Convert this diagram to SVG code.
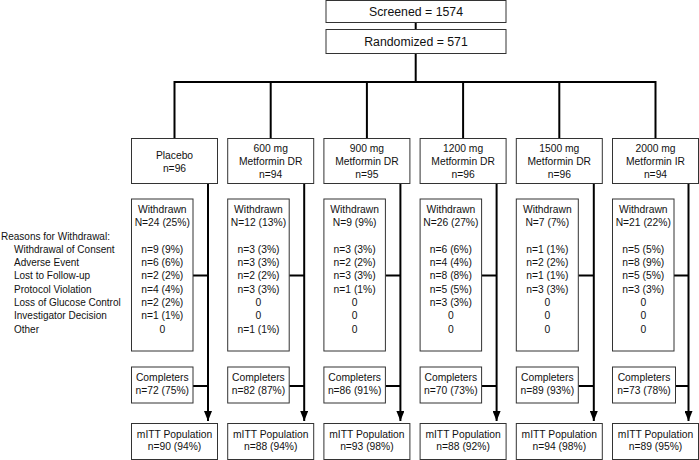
<svg xmlns="http://www.w3.org/2000/svg" width="699" height="460" viewBox="0 0 699 460">
<defs>
<style>
text{font-family:"Liberation Sans",Arial,sans-serif;font-size:10.3px;fill:#111;text-anchor:middle}
.big{font-size:12.3px}
.lab{text-anchor:start;font-size:10px}
.box{fill:#fff;stroke:#333;stroke-width:1}
.ln{fill:none;stroke:#000;stroke-width:2}
</style>
<marker id="ah" viewBox="0 0 10 8" refX="10" refY="4" markerWidth="10" markerHeight="8" markerUnits="userSpaceOnUse" orient="auto">
<path d="M0,0 L10,4 L0,8 Z" fill="#000"/>
</marker>
</defs>
<rect width="699" height="460" fill="#fff"/>

<g id="connectors">
<line class="ln" x1="415.7" y1="22.5" x2="415.7" y2="29.5"/>
<line class="ln" x1="415.7" y1="53.5" x2="415.7" y2="82"/>
<polyline class="ln" points="174.5,138.5 174.5,82 655.5,82 655.5,138.5"/>
<line class="ln" x1="270.7" y1="82" x2="270.7" y2="138.5"/>
<line class="ln" x1="366.9" y1="82" x2="366.9" y2="138.5"/>
<line class="ln" x1="463.1" y1="82" x2="463.1" y2="138.5"/>
<line class="ln" x1="559.3" y1="82" x2="559.3" y2="138.5"/>
<g transform="translate(131.5,0)">
<line class="ln" x1="76.5" y1="183.5" x2="76.5" y2="421" marker-end="url(#ah)"/>
<line class="ln" x1="61.5" y1="275.5" x2="76.5" y2="275.5"/>
<line class="ln" x1="61.5" y1="386" x2="76.5" y2="386"/>
</g>
<g transform="translate(227.7,0)">
<line class="ln" x1="76.5" y1="183.5" x2="76.5" y2="421" marker-end="url(#ah)"/>
<line class="ln" x1="61.5" y1="275.5" x2="76.5" y2="275.5"/>
<line class="ln" x1="61.5" y1="386" x2="76.5" y2="386"/>
</g>
<g transform="translate(323.9,0)">
<line class="ln" x1="76.5" y1="183.5" x2="76.5" y2="421" marker-end="url(#ah)"/>
<line class="ln" x1="61.5" y1="275.5" x2="76.5" y2="275.5"/>
<line class="ln" x1="61.5" y1="386" x2="76.5" y2="386"/>
</g>
<g transform="translate(420.1,0)">
<line class="ln" x1="76.5" y1="183.5" x2="76.5" y2="421" marker-end="url(#ah)"/>
<line class="ln" x1="61.5" y1="275.5" x2="76.5" y2="275.5"/>
<line class="ln" x1="61.5" y1="386" x2="76.5" y2="386"/>
</g>
<g transform="translate(516.3,0)">
<line class="ln" x1="77.5" y1="183.5" x2="77.5" y2="421" marker-end="url(#ah)"/>
<line class="ln" x1="62" y1="275.5" x2="77.5" y2="275.5"/>
<line class="ln" x1="62" y1="386" x2="77.5" y2="386"/>
</g>
<g transform="translate(612.5,0)">
<line class="ln" x1="76" y1="183.5" x2="76" y2="421" marker-end="url(#ah)"/>
<line class="ln" x1="61.5" y1="275.5" x2="76" y2="275.5"/>
<line class="ln" x1="63" y1="386" x2="76" y2="386"/>
</g>
</g>

<g id="screened">
<rect class="box" x="326" y="0.5" width="180" height="22"/>
<text class="big" x="416" y="16.3">Screened = 1574</text>
</g>
<g id="randomized">
<rect class="box" x="326" y="29.5" width="180" height="24"/>
<text class="big" x="416" y="45.8">Randomized = 571</text>
</g>

<g id="reasons">
<text class="lab" x="1" y="240.3">Reasons for Withdrawal:</text>
<text class="lab" x="14" y="252.6">Withdrawal of Consent</text>
<text class="lab" x="14" y="266">Adverse Event</text>
<text class="lab" x="14" y="279.3">Lost to Follow-up</text>
<text class="lab" x="14" y="292.6">Protocol Violation</text>
<text class="lab" x="14" y="306">Loss of Glucose Control</text>
<text class="lab" x="14" y="319.3">Investigator Decision</text>
<text class="lab" x="14" y="332.6">Other</text>
</g>

<g id="placebo" transform="translate(131.5,0)">
<rect class="box" x="0" y="138.5" width="86" height="45"/>
<text x="43" y="158.6">Placebo</text>
<text x="43" y="172">n=96</text>
</g>
<g id="placebo-withdrawn" transform="translate(131.5,0)">
<rect class="box" x="0" y="199" width="61.5" height="152"/>
<text x="30.75" y="213">Withdrawn</text>
<text x="30.75" y="226">N=24 (25%)</text>
<text x="30.75" y="252.6">n=9 (9%)</text>
<text x="30.75" y="266">n=6 (6%)</text>
<text x="30.75" y="279.3">n=2 (2%)</text>
<text x="30.75" y="292.6">n=4 (4%)</text>
<text x="30.75" y="306">n=2 (2%)</text>
<text x="30.75" y="319.3">n=1 (1%)</text>
<text x="30.75" y="332.6">0</text>
</g>
<g id="placebo-completers" transform="translate(131.5,0)">
<rect class="box" x="0" y="367" width="61.5" height="36"/>
<text x="30.75" y="381.3">Completers</text>
<text x="30.75" y="393.6">n=72 (75%)</text>
</g>
<g id="placebo-mitt" transform="translate(131.5,0)">
<rect class="box" x="0" y="423.5" width="86" height="36"/>
<text x="43" y="437.6">mITT Population</text>
<text x="43" y="450.3">n=90 (94%)</text>
</g>

<g id="dr600" transform="translate(227.7,0)">
<rect class="box" x="0" y="138.5" width="86" height="45"/>
<text x="43" y="152">600 mg</text>
<text x="43" y="165.3">Metformin DR</text>
<text x="43" y="178.3">n=94</text>
</g>
<g id="dr600-withdrawn" transform="translate(227.7,0)">
<rect class="box" x="0" y="199" width="61.5" height="152"/>
<text x="30.75" y="213">Withdrawn</text>
<text x="30.75" y="226">N=12 (13%)</text>
<text x="30.75" y="252.6">n=3 (3%)</text>
<text x="30.75" y="266">n=3 (3%)</text>
<text x="30.75" y="279.3">n=2 (2%)</text>
<text x="30.75" y="292.6">n=3 (3%)</text>
<text x="30.75" y="306">0</text>
<text x="30.75" y="319.3">0</text>
<text x="30.75" y="332.6">n=1 (1%)</text>
</g>
<g id="dr600-completers" transform="translate(227.7,0)">
<rect class="box" x="0" y="367" width="61.5" height="36"/>
<text x="30.75" y="381.3">Completers</text>
<text x="30.75" y="393.6">n=82 (87%)</text>
</g>
<g id="dr600-mitt" transform="translate(227.7,0)">
<rect class="box" x="0" y="423.5" width="86" height="36"/>
<text x="43" y="437.6">mITT Population</text>
<text x="43" y="450.3">n=88 (94%)</text>
</g>

<g id="dr900" transform="translate(323.9,0)">
<rect class="box" x="0" y="138.5" width="86" height="45"/>
<text x="43" y="152">900 mg</text>
<text x="43" y="165.3">Metformin DR</text>
<text x="43" y="178.3">n=95</text>
</g>
<g id="dr900-withdrawn" transform="translate(323.9,0)">
<rect class="box" x="0" y="199" width="61.5" height="152"/>
<text x="30.75" y="213">Withdrawn</text>
<text x="30.75" y="226">N=9 (9%)</text>
<text x="30.75" y="252.6">n=3 (3%)</text>
<text x="30.75" y="266">n=2 (2%)</text>
<text x="30.75" y="279.3">n=3 (3%)</text>
<text x="30.75" y="292.6">n=1 (1%)</text>
<text x="30.75" y="306">0</text>
<text x="30.75" y="319.3">0</text>
<text x="30.75" y="332.6">0</text>
</g>
<g id="dr900-completers" transform="translate(323.9,0)">
<rect class="box" x="0" y="367" width="61.5" height="36"/>
<text x="30.75" y="381.3">Completers</text>
<text x="30.75" y="393.6">n=86 (91%)</text>
</g>
<g id="dr900-mitt" transform="translate(323.9,0)">
<rect class="box" x="0" y="423.5" width="86" height="36"/>
<text x="43" y="437.6">mITT Population</text>
<text x="43" y="450.3">n=93 (98%)</text>
</g>

<g id="dr1200" transform="translate(420.1,0)">
<rect class="box" x="0" y="138.5" width="86" height="45"/>
<text x="43" y="152">1200 mg</text>
<text x="43" y="165.3">Metformin DR</text>
<text x="43" y="178.3">n=96</text>
</g>
<g id="dr1200-withdrawn" transform="translate(420.1,0)">
<rect class="box" x="0" y="199" width="61.5" height="152"/>
<text x="30.75" y="213">Withdrawn</text>
<text x="30.75" y="226">N=26 (27%)</text>
<text x="30.75" y="252.6">n=6 (6%)</text>
<text x="30.75" y="266">n=4 (4%)</text>
<text x="30.75" y="279.3">n=8 (8%)</text>
<text x="30.75" y="292.6">n=5 (5%)</text>
<text x="30.75" y="306">n=3 (3%)</text>
<text x="30.75" y="319.3">0</text>
<text x="30.75" y="332.6">0</text>
</g>
<g id="dr1200-completers" transform="translate(420.1,0)">
<rect class="box" x="0" y="367" width="61.5" height="36"/>
<text x="30.75" y="381.3">Completers</text>
<text x="30.75" y="393.6">n=70 (73%)</text>
</g>
<g id="dr1200-mitt" transform="translate(420.1,0)">
<rect class="box" x="0" y="423.5" width="86" height="36"/>
<text x="43" y="437.6">mITT Population</text>
<text x="43" y="450.3">n=88 (92%)</text>
</g>

<g id="dr1500" transform="translate(516.3,0)">
<rect class="box" x="0" y="138.5" width="86" height="45"/>
<text x="43" y="152">1500 mg</text>
<text x="43" y="165.3">Metformin DR</text>
<text x="43" y="178.3">n=96</text>
</g>
<g id="dr1500-withdrawn" transform="translate(516.3,0)">
<rect class="box" x="0" y="199" width="62" height="152"/>
<text x="31" y="213">Withdrawn</text>
<text x="31" y="226">N=7 (7%)</text>
<text x="31" y="252.6">n=1 (1%)</text>
<text x="31" y="266">n=2 (2%)</text>
<text x="31" y="279.3">n=1 (1%)</text>
<text x="31" y="292.6">n=3 (3%)</text>
<text x="31" y="306">0</text>
<text x="31" y="319.3">0</text>
<text x="31" y="332.6">0</text>
</g>
<g id="dr1500-completers" transform="translate(516.3,0)">
<rect class="box" x="0" y="367" width="62" height="36"/>
<text x="31" y="381.3">Completers</text>
<text x="31" y="393.6">n=89 (93%)</text>
</g>
<g id="dr1500-mitt" transform="translate(516.3,0)">
<rect class="box" x="0" y="423.5" width="86" height="36"/>
<text x="43" y="437.6">mITT Population</text>
<text x="43" y="450.3">n=94 (98%)</text>
</g>

<g id="ir2000" transform="translate(612.5,0)">
<rect class="box" x="0" y="138.5" width="86" height="45"/>
<text x="43" y="152">2000 mg</text>
<text x="43" y="165.3">Metformin IR</text>
<text x="43" y="178.3">n=94</text>
</g>
<g id="ir2000-withdrawn" transform="translate(612.5,0)">
<rect class="box" x="0" y="199" width="61.5" height="152"/>
<text x="30.75" y="213">Withdrawn</text>
<text x="30.75" y="226">N=21 (22%)</text>
<text x="30.75" y="252.6">n=5 (5%)</text>
<text x="30.75" y="266">n=8 (9%)</text>
<text x="30.75" y="279.3">n=5 (5%)</text>
<text x="30.75" y="292.6">n=3 (3%)</text>
<text x="30.75" y="306">0</text>
<text x="30.75" y="319.3">0</text>
<text x="30.75" y="332.6">0</text>
</g>
<g id="ir2000-completers" transform="translate(612.5,0)">
<rect class="box" x="0" y="367" width="63" height="36"/>
<text x="31.5" y="381.3">Completers</text>
<text x="31.5" y="393.6">n=73 (78%)</text>
</g>
<g id="ir2000-mitt" transform="translate(612.5,0)">
<rect class="box" x="0" y="423.5" width="86" height="36"/>
<text x="43" y="437.6">mITT Population</text>
<text x="43" y="450.3">n=89 (95%)</text>
</g>
</svg>
